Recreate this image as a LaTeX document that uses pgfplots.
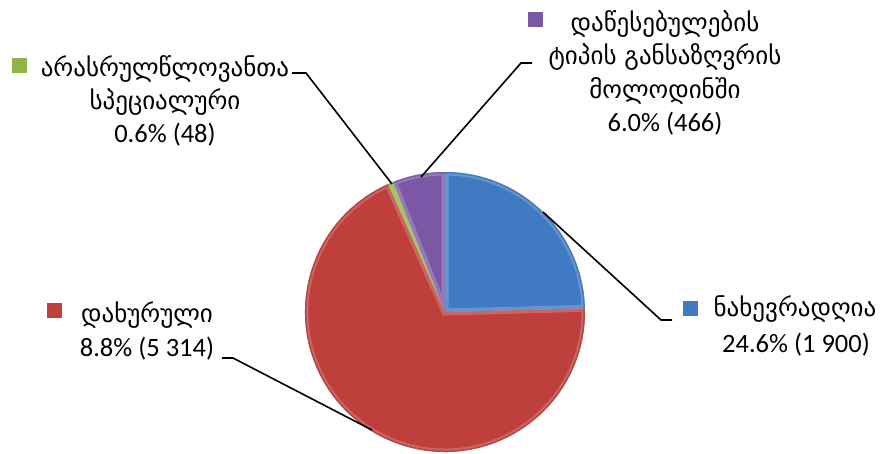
\documentclass[border=0pt]{standalone}
\usepackage{pgfplots}
\pgfplotsset{compat=1.18}
\usepackage{pgfplotstable}
\usepackage{fontspec}
\setmainfont{Carlito}
\newfontfamily\geo{DejaVu Sans}
\definecolor{cBlue}{HTML}{3F7AC2}
\definecolor{cRed}{HTML}{BE3F3B}
\definecolor{cGreen}{HTML}{8DB547}
\definecolor{cPurple}{HTML}{7A58A6}

\pgfplotstableread{
value
1900
5314
48
466
}\piedata
\newcommand\slicepath[2]{(axis cs:445,-312) -- ++(#1:140pt) arc[start angle=#1, end angle=#2, radius=140pt] -- cycle}
\newcommand\pieslice[3]{%
  \fill[#1] \slicepath{#2}{#3};
  \begin{scope}
    \clip \slicepath{#2}{#3};
    \draw[#1!55!white, line width=7pt, opacity=0.45] \slicepath{#2}{#3};
    \draw[#1!80!black, line width=3pt, opacity=0.5] (axis cs:445,-312) ++(#2:140pt) arc[start angle=#2, end angle=#3, radius=140pt];
  \end{scope}}
\pgfplotstablegetelem{0}{value}\of\piedata \let\va\pgfplotsretval
\pgfplotstablegetelem{1}{value}\of\piedata \let\vb\pgfplotsretval
\pgfplotstablegetelem{2}{value}\of\piedata \let\vc\pgfplotsretval
\pgfplotstablegetelem{3}{value}\of\piedata \let\vd\pgfplotsretval
\pgfmathsetmacro\total{\va+\vb+\vc+\vd}
\pgfmathsetmacro\aA{90}
\pgfmathsetmacro\aB{90-360*(\va/\total)}
\pgfmathsetmacro\aC{\aB-360*(\vb/\total)}
\pgfmathsetmacro\aD{\aC-360*(\vc/\total)}
\pgfmathsetmacro\aE{\aD-360*(\vd/\total)}

\begin{document}
\begin{tikzpicture}
\begin{axis}[
  width=884pt, height=453pt, scale only axis,
  xmin=0, xmax=884, ymin=-453, ymax=0,
  hide axis, clip=false]
\coordinate (bl) at (axis cs:0,-453);
\coordinate (tr) at (axis cs:884,0);
% wedges
\pieslice{cBlue}{\aB}{\aA}
\pieslice{cRed}{\aC}{\aB}
\pieslice{cGreen}{\aD}{\aC}
\pieslice{cPurple}{\aE}{\aD}
% leader lines
\draw[black, line width=1.6pt] (axis cs:543,-212) -- (axis cs:661,-320) -- (axis cs:672,-320);
\draw[black, line width=1.6pt] (axis cs:372,-430) -- (axis cs:233,-358) -- (axis cs:222,-358);
\draw[black, line width=1.6pt] (axis cs:392,-184) -- (axis cs:306,-73) -- (axis cs:292,-73);
\draw[black, line width=1.6pt] (axis cs:421,-177) -- (axis cs:521,-63) -- (axis cs:532,-63);
% markers
\fill[cGreen] (axis cs:12,-58) rectangle (axis cs:27,-73);
\fill[cPurple] (axis cs:528,-12) rectangle (axis cs:543,-27);
\fill[cBlue] (axis cs:683,-301) rectangle (axis cs:698,-316);
\fill[cRed] (axis cs:47,-303) rectangle (axis cs:62,-318);
% labels
\tikzset{gl/.style={anchor=base, inner sep=0pt, font=\geo\fontsize{25}{30}\selectfont},
         nl/.style={anchor=base, inner sep=0pt, font=\fontsize{26.5}{32}\selectfont}}
\node[gl] at (axis cs:165,-77) {არასრულწლოვანთა};
\node[gl] at (axis cs:165,-110) {სპეციალური};
\node[nl] at (axis cs:165,-143) {0.6\% (48)};
\node[gl] at (axis cs:665,-32) {დაწესებულების};
\node[gl] at (axis cs:665,-65) {ტიპის განსაზღვრის};
\node[gl] at (axis cs:665,-99) {მოლოდინში};
\node[nl] at (axis cs:665,-132) {6.0\% (466)};
\node[gl] at (axis cs:795,-317) {ნახევრადღია};
\node[nl] at (axis cs:796,-352) {24.6\% (1 900)};
\node[gl] at (axis cs:147,-323) {დახურული};
\node[nl] at (axis cs:147,-357) {8.8\% (5 314)};
\end{axis}
\pgfresetboundingbox
\path (bl) rectangle (tr);
\end{tikzpicture}
\end{document}
